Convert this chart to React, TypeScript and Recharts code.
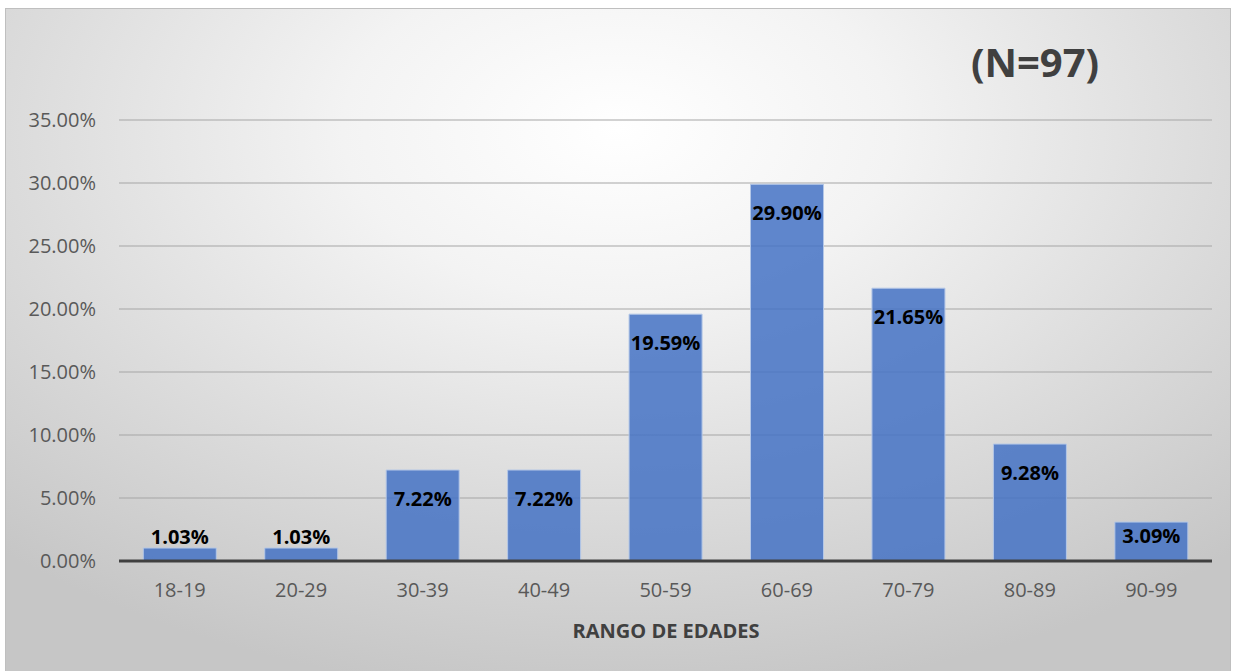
import React from 'react';
import { BarChart, Bar, XAxis, YAxis, CartesianGrid, LabelList } from 'recharts';

const AGE_RANGES = ['18-19', '20-29', '30-39', '40-49', '50-59', '60-69', '70-79', '80-89', '90-99'];
const PERCENTS = [1.03, 1.03, 7.22, 7.22, 19.59, 29.9, 21.65, 9.28, 3.09];
const Y_TICKS = [0, 5, 10, 15, 20, 25, 30, 35];

const FONT = '"Open Sans", "Liberation Sans", sans-serif';

const data = AGE_RANGES.map((range, i) => ({ range, value: PERCENTS[i] }));

// label sits inside the top of the bar, or above it when the bar is too short
const BarValueLabel = ({ x, y, width, height, value }: any) => {
  const bottom = y + height;
  let cy = Math.min(y + 28, bottom - 26);
  if (height < 30) cy = y - 12;
  return (
    <text
      x={x + width / 2}
      y={cy}
      textAnchor="middle"
      dominantBaseline="central"
      fill="#000"
      fontFamily={FONT}
      fontWeight={700}
      fontSize={20}
    >
      {`${value.toFixed(2)}%`}
    </text>
  );
};

export default function App() {
  return (
    <div
      style={{
        position: 'absolute',
        left: 0,
        top: 0,
        width: 1236,
        height: 671,
        background: '#fff',
        overflow: 'hidden',
      }}
    >
      <div
        style={{
          position: 'absolute',
          left: 5,
          top: 8,
          width: 1224,
          height: 670,
          border: '1px solid #bfbfbf',
          background: 'radial-gradient(ellipse 75% 85% at 50% 18%, #ffffff 0%, #f3f3f3 30%, #dcdcdc 65%, #c6c6c6 100%)',
        }}
      />
      <div style={{ position: 'absolute', left: 0, top: 0 }}>
        <BarChart
          width={1236}
          height={671}
          data={data}
          margin={{ top: 120, right: 24, bottom: 60, left: 0 }}
          barCategoryGap="20%"
        >
          <CartesianGrid vertical={false} stroke="#a6a6a6" strokeWidth={1.2} />
          <YAxis
            width={119}
            domain={[0, 35]}
            ticks={Y_TICKS}
            axisLine={false}
            tickLine={false}
            tickFormatter={(v: number) => `${v.toFixed(2)}%`}
            tick={{ fill: '#595959', fontSize: 20, fontFamily: FONT }}
            tickMargin={17}
          />
          <XAxis
            dataKey="range"
            height={50}
            axisLine={{ stroke: '#404040', strokeWidth: 3 }}
            tickLine={false}
            tick={{ fill: '#595959', fontSize: 20, fontFamily: FONT }}
            tickMargin={16}
          />
          <Bar
            dataKey="value"
            fill="#4472C4"
            fillOpacity={0.85}
            stroke="#b4c7e7"
            strokeWidth={1}
            isAnimationActive={false}
          >
            <LabelList dataKey="value" content={BarValueLabel} />
          </Bar>
        </BarChart>
      </div>
      <div
        style={{
          position: 'absolute',
          left: 0,
          width: 1332,
          top: 617,
          textAlign: 'center',
          fontFamily: FONT,
          fontWeight: 700,
          fontSize: 20,
          color: '#404040',
        }}
      >
        RANGO DE EDADES
      </div>
      <div
        style={{
          position: 'absolute',
          left: 935,
          width: 200,
          top: 32,
          textAlign: 'center',
          fontFamily: FONT,
          fontWeight: 700,
          fontSize: 40,
          color: '#404040',
          lineHeight: '60px',
        }}
      >
        (N=97)
      </div>
    </div>
  );
}
